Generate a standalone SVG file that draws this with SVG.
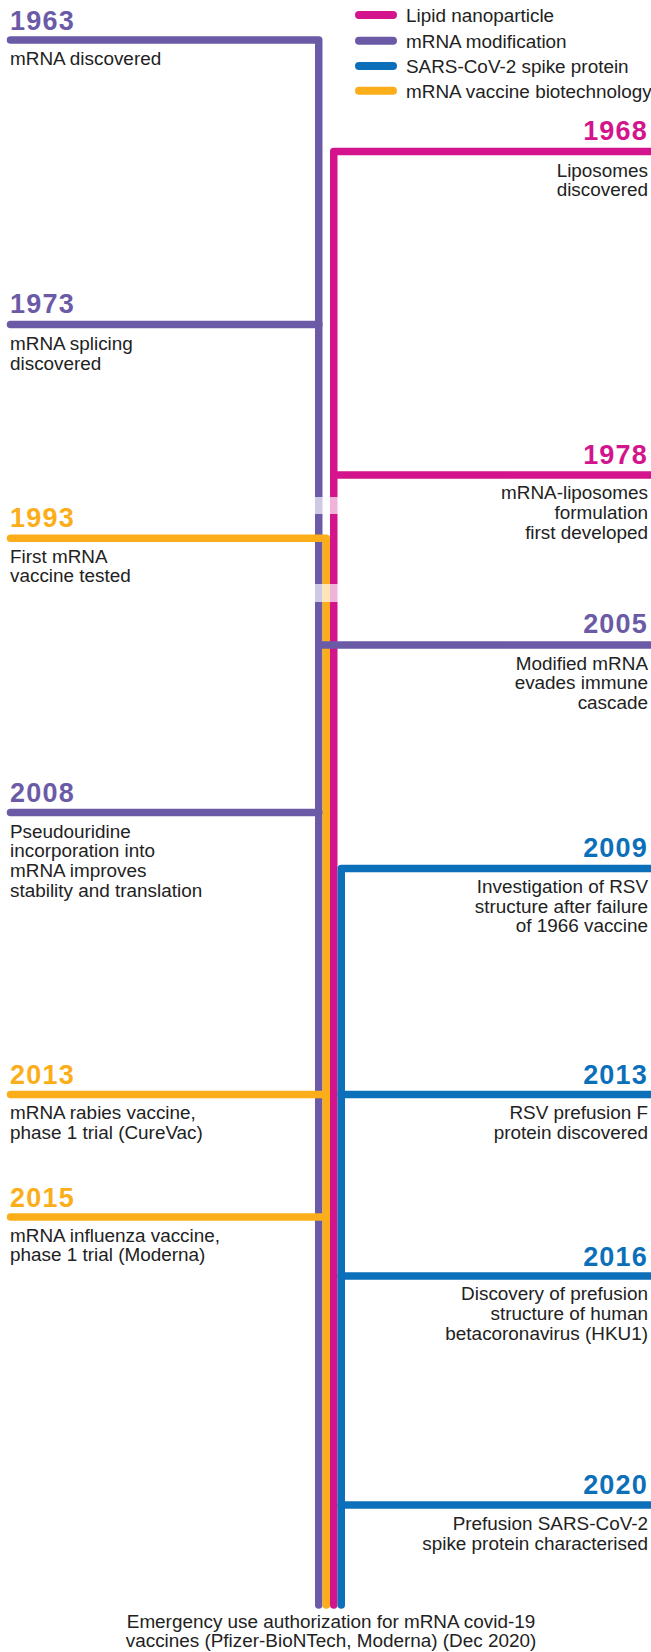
<svg xmlns="http://www.w3.org/2000/svg" width="651" height="1652" viewBox="0 0 651 1652">
<style>
.ln{fill:none;stroke-width:7.5;stroke-linecap:round;stroke-linejoin:round}
.pu{stroke:#6B5BA7}.ma{stroke:#D3148C}.bl{stroke:#0B70B9}.or{stroke:#FBAE1A}
.yr{font-family:"Liberation Sans",Arial,sans-serif;font-weight:bold;font-size:27px;letter-spacing:1.2px}
.tx{font-family:"Liberation Sans",Arial,sans-serif;font-size:18.9px;fill:#222}
.r{text-anchor:end}
.cpu{fill:#6B5BA7}.cma{fill:#D3148C}.cbl{fill:#0B70B9}.cor{fill:#FBAE1A}
.band{fill:#fff;fill-opacity:0.68}
</style>
<g id="legend">
<path class="ln" d="M359 15H393" style="stroke:#D3148C;stroke-width:8"/>
<path class="ln" d="M359 40.7H393" style="stroke:#6B5BA7;stroke-width:8"/>
<path class="ln" d="M359 66H393" style="stroke:#0B70B9;stroke-width:8"/>
<path class="ln" d="M359 90.7H393" style="stroke:#FBAE1A;stroke-width:8"/>
<text class="tx" x="406" y="22">Lipid nanoparticle</text>
<text class="tx" x="406" y="47.5">mRNA modification</text>
<text class="tx" x="406" y="73">SARS-CoV-2 spike protein</text>
<text class="tx" x="406" y="97.5">mRNA vaccine biotechnology</text>
</g>
<g id="connectors">
<path class="ln pu" d="M10.5 40H318.75V1605"/>
<path class="ln ma" d="M651 151.5H333.75V1605"/>
<path class="ln or" d="M10.5 538.3H326.25V1605"/>
<path class="ln bl" d="M651 868.5H341.25V1605"/>
<path class="ln pu" d="M10.5 324.5H318.75"/>
<path class="ln pu" d="M10.5 812.5H318.75"/>
<path class="ln ma" d="M333.75 475H651"/>
<path class="ln pu" d="M318.75 645H651"/>
<path class="ln or" d="M10.5 1094.5H326.25"/>
<path class="ln or" d="M10.5 1217H326.25"/>
<path class="ln bl" d="M341.25 1094.5H651"/>
<path class="ln bl" d="M341.25 1276H651"/>
<path class="ln bl" d="M341.25 1505H651"/>
<rect class="band" x="313" y="497" width="26" height="17"/>
<rect class="band" x="313" y="584" width="26" height="18"/>
</g>
<g id="e1963"><text class="yr cpu" x="10" y="29.5">1963</text><text class="tx" x="10" y="64.5">mRNA discovered</text></g>
<g id="e1968"><text class="yr cma r" x="648" y="140">1968</text><text class="tx r" x="648" y="176.5">Liposomes</text><text class="tx r" x="648" y="195.5">discovered</text></g>
<g id="e1973"><text class="yr cpu" x="10" y="313">1973</text><text class="tx" x="10" y="350">mRNA splicing</text><text class="tx" x="10" y="369.5">discovered</text></g>
<g id="e1978"><text class="yr cma r" x="648" y="463.5">1978</text><text class="tx r" x="648" y="499">mRNA-liposomes</text><text class="tx r" x="648" y="518.5">formulation</text><text class="tx r" x="648" y="538.5">first developed</text></g>
<g id="e1993"><text class="yr cor" x="10" y="527">1993</text><text class="tx" x="10" y="562.5">First mRNA</text><text class="tx" x="10" y="582">vaccine tested</text></g>
<g id="e2005"><text class="yr cpu r" x="648" y="633">2005</text><text class="tx r" x="648" y="669.5">Modified mRNA</text><text class="tx r" x="648" y="689">evades immune</text><text class="tx r" x="648" y="708.5">cascade</text></g>
<g id="e2008"><text class="yr cpu" x="10" y="801.5">2008</text><text class="tx" x="10" y="837.5">Pseudouridine</text><text class="tx" x="10" y="857">incorporation into</text><text class="tx" x="10" y="876.5">mRNA improves</text><text class="tx" x="10" y="896.5">stability and translation</text></g>
<g id="e2009"><text class="yr cbl r" x="648" y="857">2009</text><text class="tx r" x="648" y="893">Investigation of RSV</text><text class="tx r" x="648" y="912.5">structure after failure</text><text class="tx r" x="648" y="932">of 1966 vaccine</text></g>
<g id="e2013l"><text class="yr cor" x="10" y="1083.5">2013</text><text class="tx" x="10" y="1118.5">mRNA rabies vaccine,</text><text class="tx" x="10" y="1138.5">phase 1 trial (CureVac)</text></g>
<g id="e2013r"><text class="yr cbl r" x="648" y="1083.5">2013</text><text class="tx r" x="648" y="1118.5">RSV prefusion F</text><text class="tx r" x="648" y="1138.5">protein discovered</text></g>
<g id="e2015"><text class="yr cor" x="10" y="1206.5">2015</text><text class="tx" x="10" y="1241.5">mRNA influenza vaccine,</text><text class="tx" x="10" y="1261">phase 1 trial (Moderna)</text></g>
<g id="e2016"><text class="yr cbl r" x="648" y="1265.5">2016</text><text class="tx r" x="648" y="1300">Discovery of prefusion</text><text class="tx r" x="648" y="1320">structure of human</text><text class="tx r" x="648" y="1340">betacoronavirus (HKU1)</text></g>
<g id="e2020"><text class="yr cbl r" x="648" y="1494">2020</text><text class="tx r" x="648" y="1529.5">Prefusion SARS-CoV-2</text><text class="tx r" x="648" y="1549.5">spike protein characterised</text></g>
<g id="eEUA"><text class="tx" x="331" y="1628" text-anchor="middle">Emergency use authorization for mRNA covid-19</text><text class="tx" x="331" y="1647" text-anchor="middle">vaccines (Pfizer-BioNTech, Moderna) (Dec 2020)</text></g>
</svg>
